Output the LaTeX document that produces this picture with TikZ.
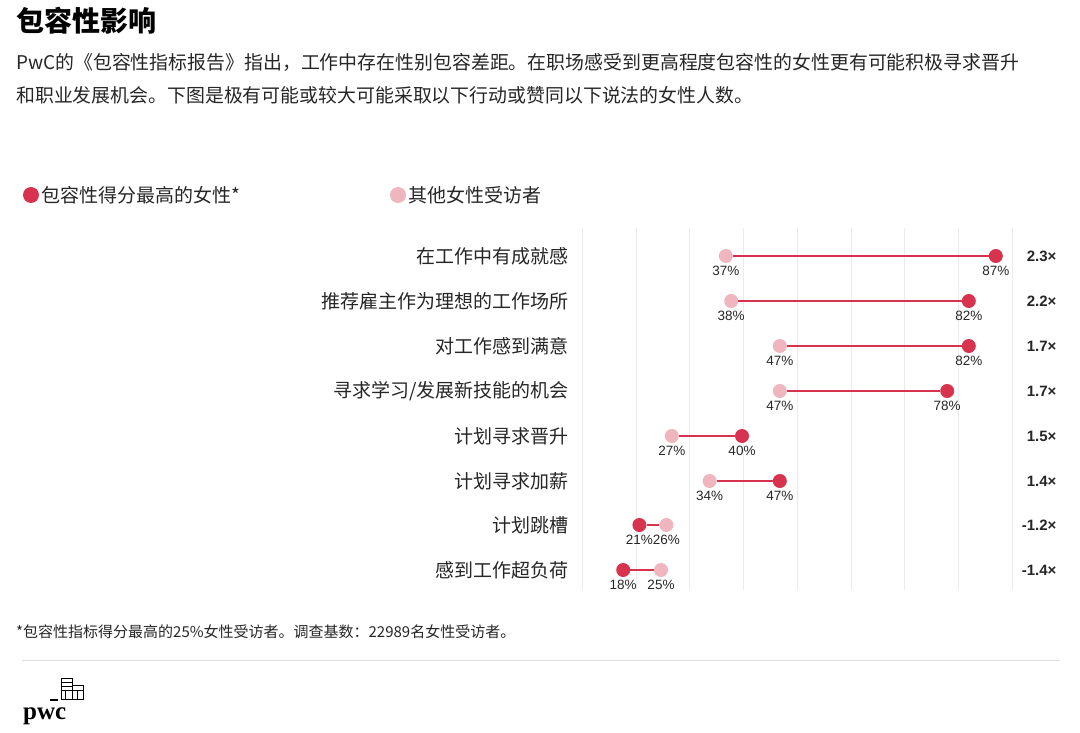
\documentclass[tikz,border=0pt]{standalone}
\usepackage{fontspec}
\setmainfont{Liberation Sans}
\newfontfamily\cjk{Noto Sans CJK SC}
\definecolor{hi}{HTML}{D7334F}
\definecolor{lo}{HTML}{F0B6BF}
\definecolor{grid}{HTML}{EBEBEB}
\begin{document}
\begin{tikzpicture}[x=1pt,y=-1pt,
  row/.style={anchor=east,font=\cjk\fontsize{19}{22}\selectfont,text=black!85},
  pct/.style={anchor=north,font=\fontsize{13.5}{15}\selectfont,text=black!85,inner sep=1pt},
  ratio/.style={anchor=east,font=\bfseries\fontsize{15}{17}\selectfont,text=black!85},
  hidot/.style={circle,fill=hi,minimum size=14pt,inner sep=0pt},
  lodot/.style={circle,fill=lo,minimum size=14pt,inner sep=0pt},
  conn/.style={hi,line width=1.3pt}]
\useasboundingbox (0,0) rectangle (1080,733);
\fill[white] (0,0) rectangle (1080,733);
\node[anchor=west,font=\cjk\bfseries\fontsize{28}{32}\selectfont,inner sep=0] (title) at (16,21) {包容性影响};
\node[anchor=north west,font=\cjk\fontsize{18.9}{33}\selectfont,inner sep=0,text width=1060pt,text=black!85] (intro) at (16,53)
 {PwC的《包容性指标报告》指出，工作中存在性别包容差距。在职场感受到更高程度包容性的女性更有可能积极寻求晋升\\和职业发展机会。下图是极有可能或较大可能采取以下行动或赞同以下说法的女性人数。};
\node[hidot,minimum size=16pt] (lh) at (31,195) {};
\node[anchor=west,font=\cjk\fontsize{19}{22}\selectfont,text=black!85] (lht) at (38,195) {包容性得分最高的女性*};
\node[lodot,minimum size=16pt] (ll) at (398,195) {};
\node[anchor=west,font=\cjk\fontsize{19}{22}\selectfont,text=black!85] (llt) at (405,195) {其他女性受访者};
\foreach \i in {0,...,8} \draw[grid] ({582+53.75*\i},228) -- ({582+53.75*\i},590);
\foreach \n/\y/\lab/\a/\b/\r in {
 1/256/{在工作中有成就感}/37/87/2.3,
 2/301/{推荐雇主作为理想的工作场所}/38/82/2.2,
 3/346/{对工作感到满意}/47/82/1.7,
 4/391/{寻求学习/发展新技能的机会}/47/78/1.7,
 5/436/{计划寻求晋升}/27/40/1.5,
 6/481/{计划寻求加薪}/34/47/1.4,
 7/525/{计划跳槽}/26/21/-1.2,
 8/570/{感到工作超负荷}/25/18/-1.4}{
 \node[row] (r\n) at (572,\y) {\lab};
 \node[lodot] (o\n) at ({526+5.4*\a},\y) {};
 \node[hidot] (h\n) at ({526+5.4*\b},\y) {};
 \draw[conn] (o\n) -- (h\n);
 \node[pct] (po\n) at ([yshift=-2pt]o\n.south) {\a\%};
 \node[pct] (ph\n) at ([yshift=-2pt]h\n.south) {\b\%};
 \node[ratio] (x\n) at (1060,\y) {\r×};
}
\node[anchor=west,font=\cjk\fontsize{15}{17}\selectfont,text=black!85,inner sep=0] (foot) at (16,632) {*包容性指标得分最高的25\%女性受访者。调查基数：22989名女性受访者。};
\draw[black!12,line width=1pt] (22,660) -- (1060,660);
% logo
\begin{scope}[line width=0.9pt]
\draw[line width=1.4pt] (50,700) -- (58,700);
\draw (61,678) rectangle (72,699);
\draw (61,682) -- (72,682); \draw (61,686) -- (72,686);
\draw (61,690) -- (72,690);
\draw (65,690) rectangle (77,699);
\draw (72,685) rectangle (83,699); \draw (77,690) -- (77,699);
\draw (72,690) -- (83,690);
\end{scope}
\node[anchor=west,font=\bfseries\fontsize{25}{27}\selectfont,inner sep=0] (pwc) at (23,716) {\fontspec{Liberation Serif}pwc};
\end{tikzpicture}
\end{document}
